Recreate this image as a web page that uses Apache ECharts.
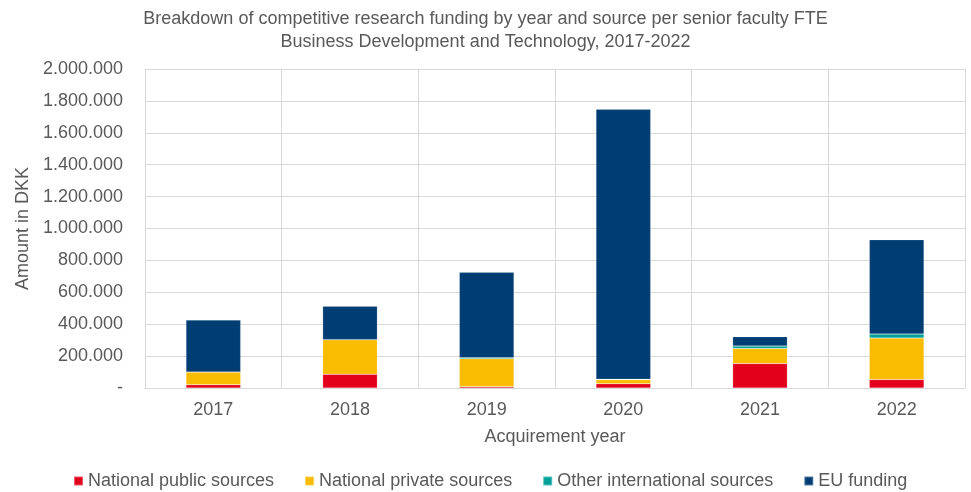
<!DOCTYPE html>
<html>
<head>
<meta charset="utf-8">
<script src="https://cdn.jsdelivr.net/npm/echarts@6/dist/echarts.min.js"></script>
<style>
  html, body { margin: 0; padding: 0; background: #fff; }
  #chart { width: 971px; height: 492px; }
</style>
</head>
<body>
<div id="chart"></div>
<script>
// Acquirement years on the category axis
const years = ['2017', '2018', '2019', '2020', '2021', '2022'];

// Funding per senior faculty FTE, in DKK, by source
const nationalPublic = [20000, 86000, 8000, 27000, 153000, 53000];
const nationalPrivate = [80000, 217000, 176000, 25000, 94000, 260000];
const otherInternational = [0, 0, 5000, 3000, 16000, 25000];
const euFunding = [326000, 209000, 536000, 1692000, 59000, 592000];

const seriesNames = ['National public sources', 'National private sources', 'Other international sources', 'EU funding'];
const seriesColors = ['#E2001A', '#F9BC00', '#00A19A', '#003D73'];
const seriesValues = [nationalPublic, nationalPrivate, otherInternational, euFunding];

const textColor = '#595959';
const fontFamily = '"Liberation Sans", Arial, sans-serif';

// Danish-style thousands separator; zero shown as a dash
function formatAmount(v) {
  if (v === 0) return '-';
  return String(Math.round(v)).replace(/\B(?=(\d{3})+(?!\d))/g, '.');
}

const chart = echarts.init(document.getElementById('chart'), null, { renderer: 'canvas' });

chart.setOption({
  backgroundColor: '#ffffff',
  animation: false,
  title: {
    text: 'Breakdown of competitive research funding by year and source per senior faculty FTE\nBusiness Development and Technology, 2017-2022',
    left: 'center',
    top: 3,
    textStyle: {
      color: textColor,
      fontFamily: fontFamily,
      fontSize: 18,
      fontWeight: 'normal',
      lineHeight: 23
    }
  },
  legend: {
    top: 467,
    left: 68,
    icon: 'rect',
    itemWidth: 9,
    itemHeight: 9,
    itemGap: 30,
    textStyle: { color: textColor, fontFamily: fontFamily, fontSize: 18 },
    data: seriesNames
  },
  grid: { left: 145, right: 6, top: 69, bottom: 104 },
  xAxis: {
    type: 'category',
    data: years,
    name: 'Acquirement year',
    nameLocation: 'middle',
    nameGap: 40,
    nameTextStyle: { color: textColor, fontFamily: fontFamily, fontSize: 18 },
    axisLine: { show: true, lineStyle: { color: '#d9d9d9' } },
    axisTick: { show: false },
    axisLabel: { color: textColor, fontFamily: fontFamily, fontSize: 18, margin: 13 },
    splitLine: { show: true, lineStyle: { color: '#d9d9d9', width: 1 } }
  },
  yAxis: {
    type: 'value',
    min: 0,
    max: 2000000,
    interval: 200000,
    name: 'Amount in DKK',
    nameLocation: 'middle',
    nameGap: 111,
    nameTextStyle: { color: textColor, fontFamily: fontFamily, fontSize: 18 },
    axisLine: { show: false },
    axisTick: { show: false },
    axisLabel: {
      color: textColor,
      fontFamily: fontFamily,
      fontSize: 18,
      margin: 22,
      formatter: formatAmount
    },
    splitLine: { show: true, lineStyle: { color: '#d9d9d9', width: 1 } }
  },
  series: seriesNames.map((name, i) => ({
    name: name,
    type: 'bar',
    stack: 'total',
    barWidth: '40%',
    data: seriesValues[i],
    itemStyle: {
      color: seriesColors[i],
      borderColor: 'rgba(255,255,255,0.35)',
      borderWidth: 0.5
    }
  }))
});
</script>
</body>
</html>
